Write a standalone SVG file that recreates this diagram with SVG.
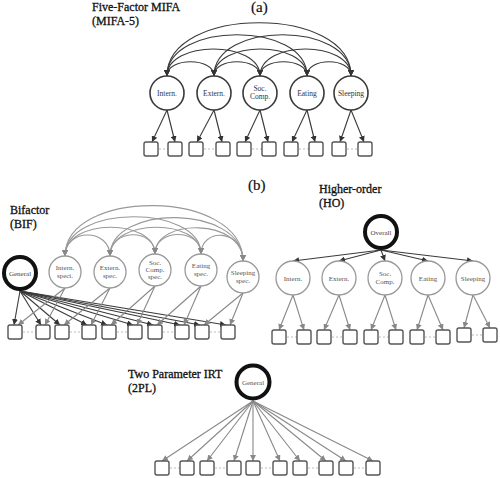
<svg xmlns="http://www.w3.org/2000/svg" width="500" height="478" viewBox="0 0 500 478">
<defs>
<marker id="ahd" viewBox="0 0 6 6" refX="6" refY="3" markerWidth="6" markerHeight="6" markerUnits="userSpaceOnUse" orient="auto-start-reverse"><path d="M0,0 L6,3 L0,6 z" fill="#333"/></marker>
<marker id="ahg" viewBox="0 0 6 6" refX="6" refY="3" markerWidth="6" markerHeight="6" markerUnits="userSpaceOnUse" orient="auto-start-reverse"><path d="M0,0 L6,3 L0,6 z" fill="#888"/></marker>
</defs>
<style>
.title{font-family:"Liberation Serif",serif;font-size:12px;fill:#111;stroke:#111;stroke-width:0.3}
.big{font-family:"Liberation Serif",serif;font-size:15px;fill:#111;stroke:#111;stroke-width:0.2}
.lab{font-family:"Liberation Serif",serif;font-size:7.5px;fill:#333;text-anchor:middle}
.labg{font-family:"Liberation Serif",serif;font-size:7px;fill:#555;text-anchor:middle}
.ca{fill:#fff;stroke:#3a3a3a;stroke-width:1.6}
.cg{fill:#fff;stroke:#999;stroke-width:1.3}
.ck{fill:#fff;stroke:#111;stroke-width:4}
.box{fill:#fff;stroke:#555;stroke-width:1.4}
.ld{fill:none;stroke:#3a3a3a;stroke-width:1.1;marker-end:url(#ahd)}
.lg{fill:none;stroke:#888;stroke-width:1.1;marker-end:url(#ahg)}
.cvd{fill:none;stroke:#3a3a3a;stroke-width:1.1;marker-start:url(#ahd);marker-end:url(#ahd)}
.cvg{fill:none;stroke:#999;stroke-width:1.1;marker-start:url(#ahg);marker-end:url(#ahg)}
.dash{stroke:#bbb;stroke-width:1;stroke-dasharray:2,2}
</style>
<rect width="500" height="478" fill="#fff"/>

<!-- Titles -->
<text class="title" x="92" y="11">Five-Factor MIFA</text>
<text class="title" x="92" y="25">(MIFA-5)</text>
<text class="big" x="251" y="12">(a)</text>
<text class="big" x="248" y="190">(b)</text>
<text class="title" x="10" y="214">Bifactor</text>
<text class="title" x="10" y="228">(BIF)</text>
<text class="title" x="319" y="193">Higher-order</text>
<text class="title" x="319" y="207">(HO)</text>
<text class="title" x="128" y="378">Two Parameter IRT</text>
<text class="title" x="128" y="392">(2PL)</text>

<!-- Connectors -->
<g id="connectors">
<!-- (a) covariances -->
<path class="cvd" d="M167,76 C167,57 214,57 214,76"/>
<path class="cvd" d="M214,76 C214,57 260,57 260,76"/>
<path class="cvd" d="M260,76 C260,57 307,57 307,76"/>
<path class="cvd" d="M307,76 C307,57 351,57 351,76"/>
<path class="cvd" d="M167,76 C167,40 260,40 260,76"/>
<path class="cvd" d="M214,76 C214,40 307,40 307,76"/>
<path class="cvd" d="M260,76 C260,40 351,40 351,76"/>
<path class="cvd" d="M167,76 C167,21 307,21 307,76"/>
<path class="cvd" d="M214,76 C214,21 351,21 351,76"/>
<path class="cvd" d="M167,76 C167,5 351,5 351,76"/>
<!-- (a) loadings -->
<path class="ld" d="M167,110 L152,142"/>
<path class="ld" d="M167,110 L175,142"/>
<path class="ld" d="M214,110 L197,142"/>
<path class="ld" d="M214,110 L222,142"/>
<path class="ld" d="M260,110 L245,142"/>
<path class="ld" d="M260,110 L268,142"/>
<path class="ld" d="M307,110 L292,142"/>
<path class="ld" d="M307,110 L315,142"/>
<path class="ld" d="M351,110 L340,142"/>
<path class="ld" d="M351,110 L364,142"/>
<line class="dash" x1="159" y1="149" x2="168" y2="149"/>
<line class="dash" x1="204" y1="149" x2="216" y2="149"/>
<line class="dash" x1="252" y1="149" x2="262" y2="149"/>
<line class="dash" x1="299" y1="149" x2="309" y2="149"/>
<line class="dash" x1="347" y1="149" x2="358" y2="149"/>

<!-- Bifactor covariances -->
<path class="cvg" d="M65,256 C65,228 110,228 110,256"/>
<path class="cvg" d="M110,256 C110,228 155,228 155,254"/>
<path class="cvg" d="M155,254 C155,228 201,228 201,254"/>
<path class="cvg" d="M201,254 C201,228 243,228 243,261"/>
<path class="cvg" d="M65,256 C65,218 155,218 155,254"/>
<path class="cvg" d="M110,256 C110,218 201,218 201,254"/>
<path class="cvg" d="M155,254 C155,218 243,218 243,261"/>
<path class="cvg" d="M65,256 C65,204 201,204 201,254"/>
<path class="cvg" d="M110,256 C110,204 243,204 243,261"/>
<path class="cvg" d="M65,256 C65,188 243,188 243,261"/>
<!-- Bifactor general loadings -->
<path class="ld" d="M20,291 L14,325"/>
<path class="ld" d="M20,291 L41,325"/>
<path class="ld" d="M20,291 L60,325"/>
<path class="ld" d="M20,291 L87,325"/>
<path class="ld" d="M20,291 L107,325"/>
<path class="ld" d="M20,291 L133,325"/>
<path class="ld" d="M20,291 L153,325"/>
<path class="ld" d="M20,291 L180,325"/>
<path class="ld" d="M20,291 L200,325"/>
<path class="ld" d="M20,291 L226,325"/>
<!-- Bifactor specific loadings -->
<path class="lg" d="M65,288 L18,325"/>
<path class="lg" d="M65,288 L45,325"/>
<path class="lg" d="M110,288 L64,325"/>
<path class="lg" d="M110,288 L91,325"/>
<path class="lg" d="M155,286 L111,325"/>
<path class="lg" d="M155,286 L137,325"/>
<path class="lg" d="M201,286 L157,325"/>
<path class="lg" d="M201,286 L184,325"/>
<path class="lg" d="M243,293 L204,325"/>
<path class="lg" d="M243,293 L230,325"/>
<line class="dash" x1="23" y1="332" x2="36" y2="332"/>
<line class="dash" x1="70" y1="332" x2="82" y2="332"/>
<line class="dash" x1="117" y1="332" x2="128" y2="332"/>
<line class="dash" x1="163" y1="332" x2="175" y2="332"/>
<line class="dash" x1="210" y1="332" x2="221" y2="332"/>

<!-- HO -->
<path class="ld" d="M381,250 L293,261"/>
<path class="ld" d="M381,250 L339,261"/>
<path class="ld" d="M381,250 L385,261"/>
<path class="ld" d="M381,250 L428,261"/>
<path class="ld" d="M381,250 L473,261"/>
<path class="lg" d="M293,295 L279,330"/>
<path class="lg" d="M293,295 L304,330"/>
<path class="lg" d="M339,295 L324,330"/>
<path class="lg" d="M339,295 L350,330"/>
<path class="lg" d="M385,295 L371,330"/>
<path class="lg" d="M385,295 L396,330"/>
<path class="lg" d="M428,295 L417,330"/>
<path class="lg" d="M428,295 L443,330"/>
<path class="lg" d="M473,295 L464,328"/>
<path class="lg" d="M473,295 L490,328"/>
<line class="dash" x1="287" y1="337" x2="297" y2="337"/>
<line class="dash" x1="332" y1="337" x2="343" y2="337"/>
<line class="dash" x1="379" y1="337" x2="389" y2="337"/>
<line class="dash" x1="425" y1="337" x2="436" y2="337"/>
<line class="dash" x1="472" y1="335" x2="483" y2="335"/>

<!-- 2PL -->
<path class="lg" d="M253,401 L162,461"/>
<path class="lg" d="M253,401 L187,461"/>
<path class="lg" d="M253,401 L207,461"/>
<path class="lg" d="M253,401 L234,461"/>
<path class="lg" d="M253,401 L253,461"/>
<path class="lg" d="M253,401 L280,461"/>
<path class="lg" d="M253,401 L300,461"/>
<path class="lg" d="M253,401 L326,461"/>
<path class="lg" d="M253,401 L346,461"/>
<path class="lg" d="M253,401 L373,461"/>
<line class="dash" x1="170" y1="468" x2="180" y2="468"/>
<line class="dash" x1="215" y1="468" x2="227" y2="468"/>
<line class="dash" x1="261" y1="468" x2="273" y2="468"/>
<line class="dash" x1="308" y1="468" x2="319" y2="468"/>
<line class="dash" x1="354" y1="468" x2="366" y2="468"/>
</g>

<!-- (a) nodes -->
<g id="a-intern"><circle class="ca" cx="167" cy="93" r="17"/><text class="lab" x="167" y="95.5">Intern.</text></g>
<g id="a-extern"><circle class="ca" cx="214" cy="93" r="17"/><text class="lab" x="214" y="95.5">Extern.</text></g>
<g id="a-soc"><circle class="ca" cx="260" cy="93" r="17"/><text class="lab" x="260" y="91">Soc.</text><text class="lab" x="260" y="99">Comp.</text></g>
<g id="a-eating"><circle class="ca" cx="307" cy="93" r="17"/><text class="lab" x="307" y="95.5">Eating</text></g>
<g id="a-sleeping"><circle class="ca" cx="351" cy="93" r="17"/><text class="lab" x="351" y="95.5">Sleeping</text></g>
<g id="a-items">
<rect class="box" x="144" y="142" width="14" height="14" rx="2"/>
<rect class="box" x="168" y="142" width="14" height="14" rx="2"/>
<rect class="box" x="189" y="142" width="14" height="14" rx="2"/>
<rect class="box" x="216" y="142" width="14" height="14" rx="2"/>
<rect class="box" x="237" y="142" width="14" height="14" rx="2"/>
<rect class="box" x="262" y="142" width="14" height="14" rx="2"/>
<rect class="box" x="284" y="142" width="14" height="14" rx="2"/>
<rect class="box" x="309" y="142" width="14" height="14" rx="2"/>
<rect class="box" x="332" y="142" width="14" height="14" rx="2"/>
<rect class="box" x="358" y="142" width="14" height="14" rx="2"/>
</g>

<!-- Bifactor nodes -->
<g id="b-general"><circle class="ck" cx="20" cy="273" r="16"/><text class="labg" x="20" y="275.5" style="fill:#444">General</text></g>
<g id="b-intern"><circle class="cg" cx="65" cy="272" r="16"/><text class="labg" x="65" y="270">Intern.</text><text class="labg" x="65" y="278">speci.</text></g>
<g id="b-extern"><circle class="cg" cx="110" cy="272" r="16"/><text class="labg" x="110" y="270">Extern.</text><text class="labg" x="110" y="278">spec.</text></g>
<g id="b-soc"><circle class="cg" cx="155" cy="270" r="16"/><text class="labg" x="155" y="265">Soc.</text><text class="labg" x="155" y="272">Comp.</text><text class="labg" x="155" y="279">spec.</text></g>
<g id="b-eating"><circle class="cg" cx="201" cy="270" r="16"/><text class="labg" x="201" y="268">Eating</text><text class="labg" x="201" y="276">spec.</text></g>
<g id="b-sleeping"><circle class="cg" cx="243" cy="277" r="16"/><text class="labg" x="243" y="275">Sleeping</text><text class="labg" x="243" y="283">spec.</text></g>
<g id="b-items">
<rect class="box" x="8" y="325" width="14" height="14" rx="2"/>
<rect class="box" x="36" y="325" width="14" height="14" rx="2"/>
<rect class="box" x="55" y="325" width="14" height="14" rx="2"/>
<rect class="box" x="82" y="325" width="14" height="14" rx="2"/>
<rect class="box" x="102" y="325" width="14" height="14" rx="2"/>
<rect class="box" x="128" y="325" width="14" height="14" rx="2"/>
<rect class="box" x="148" y="325" width="14" height="14" rx="2"/>
<rect class="box" x="175" y="325" width="14" height="14" rx="2"/>
<rect class="box" x="195" y="325" width="14" height="14" rx="2"/>
<rect class="box" x="221" y="325" width="14" height="14" rx="2"/>
</g>

<!-- HO nodes -->
<g id="ho-overall"><circle class="ck" cx="381" cy="232" r="16"/><text class="labg" x="381" y="234.5" style="fill:#444">Overall</text></g>
<g id="ho-intern"><circle class="cg" cx="293" cy="278" r="17"/><text class="labg" x="293" y="280.5">Intern.</text></g>
<g id="ho-extern"><circle class="cg" cx="339" cy="278" r="17"/><text class="labg" x="339" y="280.5">Extern.</text></g>
<g id="ho-soc"><circle class="cg" cx="385" cy="278" r="17"/><text class="labg" x="385" y="276">Soc.</text><text class="labg" x="385" y="284">Comp.</text></g>
<g id="ho-eating"><circle class="cg" cx="428" cy="278" r="17"/><text class="labg" x="428" y="280.5">Eating</text></g>
<g id="ho-sleeping"><circle class="cg" cx="473" cy="278" r="17"/><text class="labg" x="473" y="280.5">Sleeping</text></g>
<g id="ho-items">
<rect class="box" x="272" y="330" width="14" height="14" rx="2"/>
<rect class="box" x="297" y="330" width="14" height="14" rx="2"/>
<rect class="box" x="317" y="330" width="14" height="14" rx="2"/>
<rect class="box" x="343" y="330" width="14" height="14" rx="2"/>
<rect class="box" x="364" y="330" width="14" height="14" rx="2"/>
<rect class="box" x="389" y="330" width="14" height="14" rx="2"/>
<rect class="box" x="410" y="330" width="14" height="14" rx="2"/>
<rect class="box" x="436" y="330" width="14" height="14" rx="2"/>
<rect class="box" x="457" y="328" width="14" height="14" rx="2"/>
<rect class="box" x="483" y="328" width="14" height="14" rx="2"/>
</g>

<!-- 2PL nodes -->
<g id="irt-general"><circle class="ck" cx="253" cy="382" r="16.5"/><text class="labg" x="253" y="384.5">General</text></g>
<g id="irt-items">
<rect class="box" x="155" y="461" width="14" height="14" rx="2"/>
<rect class="box" x="180" y="461" width="14" height="14" rx="2"/>
<rect class="box" x="200" y="461" width="14" height="14" rx="2"/>
<rect class="box" x="227" y="461" width="14" height="14" rx="2"/>
<rect class="box" x="246" y="461" width="14" height="14" rx="2"/>
<rect class="box" x="273" y="461" width="14" height="14" rx="2"/>
<rect class="box" x="293" y="461" width="14" height="14" rx="2"/>
<rect class="box" x="319" y="461" width="14" height="14" rx="2"/>
<rect class="box" x="339" y="461" width="14" height="14" rx="2"/>
<rect class="box" x="366" y="461" width="14" height="14" rx="2"/>
</g>
</svg>
